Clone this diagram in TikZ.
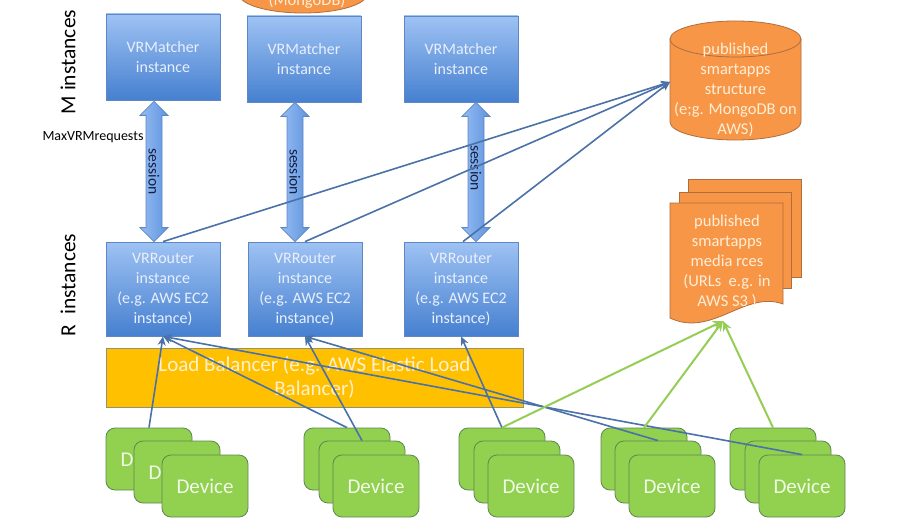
\documentclass[tikz,border=0pt]{standalone}
\usepackage{fontspec}
\setmainfont{Carlito}
\usetikzlibrary{arrows.meta,calc}
\definecolor{bxtop}{RGB}{158,194,243}
\definecolor{bxbot}{RGB}{70,128,208}
\definecolor{bxline}{RGB}{95,135,195}
\definecolor{bxtext}{RGB}{232,239,253}
\definecolor{sstop}{RGB}{150,188,242}
\definecolor{ssbot}{RGB}{95,148,222}
\definecolor{orfill}{RGB}{247,150,70}
\definecolor{orline}{RGB}{175,110,62}
\definecolor{ortext}{RGB}{255,238,215}
\definecolor{lbfill}{RGB}{255,192,0}
\definecolor{lbline}{RGB}{150,145,115}
\definecolor{lbtext}{RGB}{255,240,205}
\definecolor{gnfill}{RGB}{146,208,80}
\definecolor{gnline}{RGB}{95,135,80}
\definecolor{gntext}{RGB}{240,250,230}
\definecolor{bluelink}{RGB}{74,114,168}
\definecolor{greenlink}{RGB}{150,205,85}
\definecolor{sesstext}{RGB}{20,30,65}
\newcommand\sessarrow[2]{%
  \draw[sess] (#1) -- ($(#1)+(14,14)$) -- ($(#1)+(8,14)$) -- ($(#2)+(8,-14)$)
    -- ($(#2)+(14,-14)$) -- (#2) -- ($(#2)+(-14,-14)$) -- ($(#2)+(-8,-14)$)
    -- ($(#1)+(-8,14)$) -- ($(#1)+(-14,14)$) -- cycle;}
\tikzset{
  inst/.style={draw=bxline, line width=0.8pt, top color=bxtop, bottom color=bxbot,
    text=bxtext, align=center, minimum width=114pt, inner sep=0pt,
    font=\fontsize{16}{20}\selectfont},
  sess/.style={draw=bxline, line width=0.8pt, left color=sstop, right color=ssbot},
  sesslbl/.style={text=sesstext, inner sep=0pt, font=\fontsize{15.5}{18}\selectfont},
  orshape/.style={draw=orline, line width=0.8pt, fill=orfill},
  ortxt/.style={text=ortext, align=center, inner sep=0pt, font=\fontsize{16.5}{20}\selectfont},
  lb/.style={draw=lbline, line width=0.8pt, fill=lbfill, text=lbtext, align=center,
    minimum width=417pt, minimum height=59pt, inner sep=0pt, font=\fontsize{21}{24}\selectfont},
  dev/.style={draw=gnline, line width=0.8pt, fill=gnfill, rounded corners=9pt,
    minimum width=86pt, minimum height=62pt, inner sep=0pt, text=gntext,
    font=\fontsize{21}{24}\selectfont},
  sidelbl/.style={text=black, inner sep=0pt, font=\fontsize{21.5}{24}\selectfont},
  smalllbl/.style={text=black, inner sep=0pt, font=\fontsize{14}{16}\selectfont},
  bl/.style={draw=bluelink, line width=1.6pt, -{Stealth[length=9pt,width=8pt]}},
  gl/.style={draw=greenlink, line width=2pt, -{Stealth[length=10pt,width=9pt]}}
}
\begin{document}
\begin{tikzpicture}[x=1pt,y=-1pt]
\useasboundingbox (0,0) rectangle (900,524);
\fill[white] (0,0) rectangle (900,524);
% top cut-off store
\begin{scope}
  \clip (0,0) rectangle (900,524);
  \filldraw[orshape] (303,-6) ellipse [x radius=64, y radius=19];
  \node[ortxt] (mongo) at (307,1) {(MongoDB)};
\end{scope}
% side labels
\node[sidelbl, rotate=90] (mlab) at (68,62) {M instances};
\node[sidelbl, rotate=90] (rlab) at (68,285) {R\ \ instances};
\node[smalllbl] (maxlab) at (93,137) {MaxVRMrequests};
% matchers
\node[inst, minimum height=86pt] (m1) at (163,57) {VRMatcher\\instance};
\node[inst, minimum height=86pt] (m2) at (304,59) {VRMatcher\\instance};
\node[inst, minimum height=86pt] (m3) at (461,59) {VRMatcher\\instance};
% routers
\node[inst, minimum height=94pt] (r1) at (163,289) {VRRouter\\instance\\(e.g. AWS EC2\\instance)};
\node[inst, minimum height=94pt] (r2) at (305,289) {VRRouter\\instance\\(e.g. AWS EC2\\instance)};
\node[inst, minimum height=94pt] (r3) at (461,289) {VRRouter\\instance\\(e.g. AWS EC2\\instance)};
% session arrows
\coordinate (s1t) at ($(m1.south)+(-9,1)$);
\coordinate (s1b) at ($(r1.north)+(-9,0)$);
\coordinate (s2t) at ($(m2.south)+(-9,0)$);
\coordinate (s2b) at ($(r2.north)+(-10,0)$);
\coordinate (s3t) at ($(m3.south)+(15,0)$);
\coordinate (s3b) at ($(r3.north)+(15,0)$);
\sessarrow{s1t}{s1b}
\sessarrow{s2t}{s2b}
\sessarrow{s3t}{s3b}
\node[sesslbl, rotate=-90] (ss1) at ($(s1t)!0.5!(s1b)$) {session};
\node[sesslbl, rotate=-90] (ss2) at ($(s2t)!0.5!(s2b)$) {session};
\node[sesslbl, rotate=-90] (ss3) at ($(s3t)!0.5!(s3b)+(0,-4)$) {session};
% structure cylinder
\filldraw[orshape] (670,39) -- (670,122) .. controls (670,132) and (699.3,140) .. (735.5,140)
  .. controls (771.7,140) and (801,132) .. (801,122) -- (801,39) -- cycle;
\filldraw[orshape] (735.5,39) ellipse [x radius=65.5, y radius=18];
\node[ortxt] (cyl) at (735.5,90) {published\\smartapps\\structure\\(e;g. MongoDB on\\AWS)};
\coordinate (cylw) at (670,82);
% media multi-document
\filldraw[orshape] (688,179) rectangle (801,277);
\filldraw[orshape] (679,192) rectangle (791,288);
\filldraw[orshape] (670,203) -- (783,203) -- (783,304)
  .. controls (745,290) and (712,338) .. (670,318) -- cycle;
\node[ortxt] (media) at (727,262) {published\\smartapps\\media rces\\(URLs\ \ e.g. in\\AWS S3 )};
\coordinate (mediab) at (723,321);
% load balancer
\node[lb] (lb) at (314.5,377.5) {Load Balancer (e.g. AWS Elastic Load\\Balancer)};
% devices (texts of back cards in stacks 2-5 are fully hidden in the reference)
\node[dev] (d1a) at (149,459) {Device};
\node[dev] (d1b) at (177,472) {Device};
\node[dev] (d1c) at (205,486) {Device};
\node[dev] (d2a) at (347,459) {};
\node[dev] (d2b) at (362,472) {};
\node[dev] (d2c) at (376,486) {Device};
\node[dev] (d3a) at (502,459) {};
\node[dev] (d3b) at (517,472) {};
\node[dev] (d3c) at (531,486) {Device};
\node[dev] (d4a) at (644,459) {};
\node[dev] (d4b) at (658,472) {};
\node[dev] (d4c) at (672,486) {Device};
\node[dev] (d5a) at (773,459) {};
\node[dev] (d5b) at (788,472) {};
\node[dev] (d5c) at (802,486) {Device};
% router -> structure
\draw[bl] (r1.north) -- (cylw);
\draw[bl] (r2.north) -- (cylw);
\draw[bl] ($(r3.north)+(2,0)$) -- (cylw);
% devices -> routers
\draw[bl] (d1a.north) -- (r1.south);
\draw[bl] (d2a.north) -- (r1.south);
\draw[bl] (d2b.north) -- (r2.south);
\draw[bl] (d3a.north) -- (r3.south);
\draw[bl] (d4b.north) -- (r2.south);
\draw[bl] (d5c.north) -- (r1.south);
% devices -> media
\draw[gl] (d3a.north) -- (mediab);
\draw[gl] (d4a.north) -- (mediab);
\draw[gl] (d5a.north) -- (mediab);
\end{tikzpicture}
\end{document}
